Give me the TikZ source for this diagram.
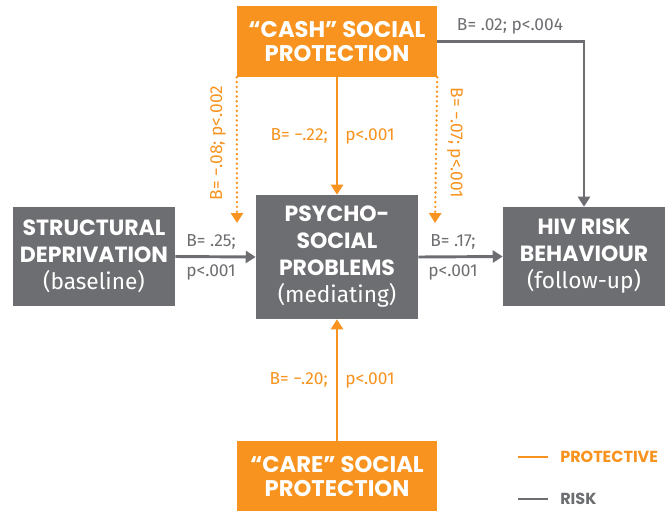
\documentclass[tikz,border=0pt]{standalone}
\usepackage{fontspec}
\setmainfont{Poppins}
\newfontfamily\lbl{Fira Sans}
\usetikzlibrary{arrows.meta}
\definecolor{orng}{HTML}{F7931E}
\definecolor{gry}{HTML}{6D6E71}
\newcommand{\boxttl}{\fontsize{16.5pt}{20.25pt}\selectfont\bfseries}
\newcommand{\boxsub}{\lbl\mdseries\fontsize{17pt}{20.25pt}\selectfont}
\newcommand{\cashttl}{\fontsize{17pt}{18pt}\selectfont\bfseries}
\tikzset{
  x=0.75pt, y=-0.75pt,
  graybox/.style={fill=gry, text=white, inner sep=0pt, align=center, minimum width=121.5pt, font=\boxttl},
  orangebox/.style={fill=orng, text=white, inner sep=0pt, align=center, minimum width=150pt, font=\cashttl},
  tip/.style={-{Triangle[width=9pt,length=7.5pt]}},
  risk/.style={draw=gry, line width=2.2pt, tip, color=gry},
  prot/.style={draw=orng, line width=2.2pt, tip, color=orng},
  dots/.style={draw=orng, color=orng, line width=2pt, line cap=round, dash pattern=on 0pt off 3.6pt, -{Triangle[width=9pt,length=7.5pt]}},
  glab/.style={text=gry, font=\lbl\fontsize{13pt}{15pt}\selectfont, inner sep=0pt},
  olab/.style={text=orng, font=\lbl\fontsize{13pt}{15pt}\selectfont, inner sep=0pt},
  legtext/.style={font=\fontsize{12pt}{14pt}\selectfont\bfseries, inner sep=0pt, anchor=west},
}
\begin{document}
\begin{tikzpicture}
\useasboundingbox (0,0) rectangle (667,511);

\node[graybox, minimum height=74.25pt] (struct) at (94,256.5)
  {STRUCTURAL\\DEPRIVATION\\{\boxsub (baseline)}};
\node[graybox, minimum height=93pt] (psycho) at (337,257)
  {PSYCHO-\\SOCIAL\\PROBLEMS\\{\boxsub (mediating)}};
\node[graybox, minimum height=74.25pt] (hiv) at (584,256.5)
  {HIV RISK\\BEHAVIOUR\\{\boxsub (follow-up)}};
\node[orangebox, minimum height=53.25pt] (cash) at (337,41.5)
  {“CASH” SOCIAL\\PROTECTION};
\node[orangebox, minimum height=52.5pt] (care) at (337,476)
  {“CARE” SOCIAL\\PROTECTION};

\coordinate (dl) at (237,223);
\coordinate (dr) at (435,223);

\draw[risk] (struct.east) -- (psycho.west);
\draw[risk] (psycho.east) -- (hiv.west);
\draw[risk] (cash.east) -| (hiv.north);
\draw[prot] (cash.south) -- (psycho.north);
\draw[prot] (care.north) -- (psycho.south);
\draw[dots] (cash.south west) -- (dl);
\draw[dots] (cash.south east) -- (dr);

\node[glab] (l1a) at (211,242) {B= .25;};
\node[glab] (l1b) at (211,272) {p<.001};
\node[glab] (l2a) at (453,242) {B= .17;};
\node[glab] (l2b) at (453,272) {p<.001};
\node[glab] (l3) at (510,26) {B= .02; p<.004};
\node[olab, anchor=east] (l4a) at (328,136) {B= −.22;};
\node[olab, anchor=west] (l4b) at (345,136) {p<.001};
\node[olab, anchor=east] (l5a) at (328,380) {B= −.20;};
\node[olab, anchor=west] (l5b) at (345,380) {p<.001};
\node[olab, rotate=90] (l6) at (218,143) {B= −.08; p<.002};
\node[olab, rotate=-90] (l7) at (455,143) {B= −.07; p<.001};

\coordinate (lg1a) at (518,457);
\coordinate (lg1b) at (548,457);
\coordinate (lg2a) at (518,499);
\coordinate (lg2b) at (548,499);
\draw[orng, line width=2pt] (lg1a) -- (lg1b);
\draw[gry, line width=2pt] (lg2a) -- (lg2b);
\node[legtext, text=orng] (lp) at (560,457) {PROTECTIVE};
\node[legtext, text=gry] (lr) at (560,499) {RISK};
\end{tikzpicture}
\end{document}
